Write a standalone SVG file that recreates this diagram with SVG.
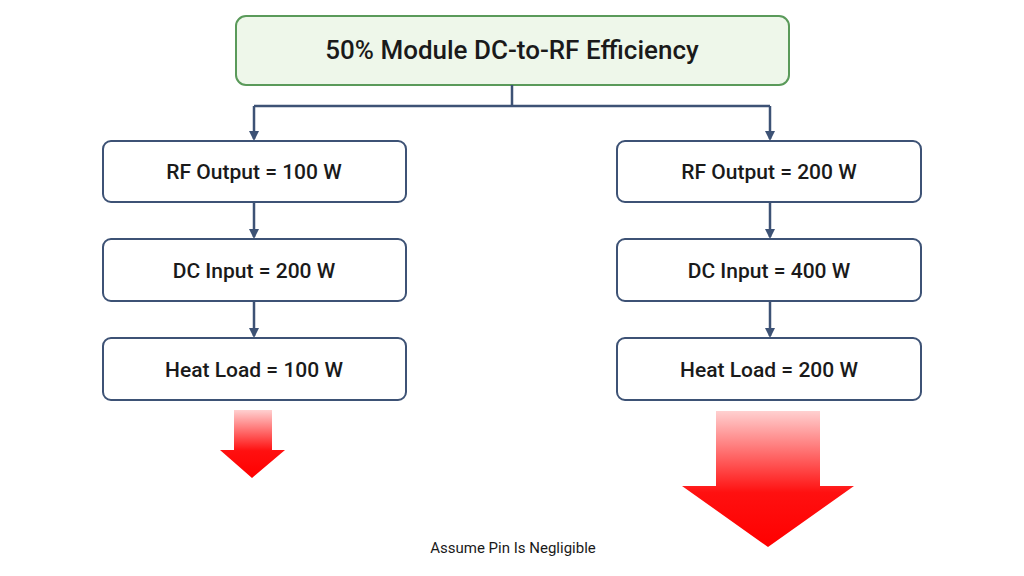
<svg xmlns="http://www.w3.org/2000/svg" width="1024" height="576" viewBox="0 0 1024 576">
<style>
.b{fill:#fff;stroke:#3d5275;stroke-width:2}
.t{font-family:Roboto,"Liberation Sans",Arial,sans-serif;font-size:21px;font-weight:500;fill:#1a1a1a;text-anchor:middle}
.c{fill:none;stroke:#3d5275;stroke-width:2.5}
</style>
<defs>
<marker id="a" markerWidth="10" markerHeight="10" refX="8" refY="5" orient="auto" markerUnits="userSpaceOnUse"><path d="M0,0L10,5L0,10z" fill="#3d5275"/></marker>
<linearGradient id="g" x1="0" y1="0" x2="0" y2="1"><stop offset="0" stop-color="#ffd0d0"/><stop offset="0.6" stop-color="#ff1010"/><stop offset="1" stop-color="#f00"/></linearGradient>
</defs>
<rect width="1024" height="576" fill="#fff"/>
<g id="top"><rect x="236" y="16" width="553" height="69" rx="10" fill="#eef7ea" stroke="#5a9a5a" stroke-width="2"/><text class="t" x="512" y="59" style="font-size:26px">50% Module DC-to-RF Efficiency</text></g>
<g id="l1"><rect class="b" x="103" y="141" width="303" height="61" rx="8"/><text class="t" x="254" y="179">RF Output = 100 W</text></g>
<g id="l2"><rect class="b" x="103" y="239" width="303" height="62" rx="8"/><text class="t" x="254" y="278">DC Input = 200 W</text></g>
<g id="l3"><rect class="b" x="103" y="338" width="303" height="62" rx="8"/><text class="t" x="254" y="377">Heat Load = 100 W</text></g>
<g id="r1"><rect class="b" x="617" y="141" width="304" height="61" rx="8"/><text class="t" x="769" y="179">RF Output = 200 W</text></g>
<g id="r2"><rect class="b" x="617" y="239" width="304" height="62" rx="8"/><text class="t" x="769" y="278">DC Input = 400 W</text></g>
<g id="r3"><rect class="b" x="617" y="338" width="304" height="62" rx="8"/><text class="t" x="769" y="377">Heat Load = 200 W</text></g>
<g id="connectors">
<path class="c" d="M512,85V106M254,106H770"/>
<path class="c" d="M254,106V139" marker-end="url(#a)"/>
<path class="c" d="M770,106V139" marker-end="url(#a)"/>
<path class="c" d="M254,202V237" marker-end="url(#a)"/>
<path class="c" d="M254,301V336" marker-end="url(#a)"/>
<path class="c" d="M770,202V237" marker-end="url(#a)"/>
<path class="c" d="M770,301V336" marker-end="url(#a)"/>
</g>
<g id="heat-small"><path d="M234,410H272V450H285L252,478L220,450H234Z" fill="url(#g)"/></g>
<g id="heat-large"><path d="M716,411H820V486H854L768,547L682,486H716Z" fill="url(#g)"/></g>
<text class="t" x="513" y="553" style="font-size:15px;font-weight:400">Assume Pin Is Negligible</text>
</svg>
